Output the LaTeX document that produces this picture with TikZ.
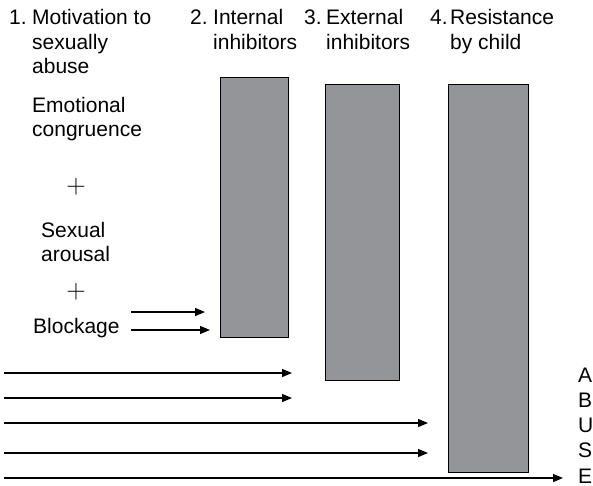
\documentclass[tikz,border=0pt]{standalone}
\usepackage{fontspec}
\setmainfont{Liberation Sans}
\newfontfamily\lmfont{Latin Modern Roman}
\usetikzlibrary{arrows.meta}
\tikzset{
  lbl/.style={font=\fontsize{21}{24.5}\selectfont, inner sep=0pt, anchor=base west, align=left},
  barbox/.style={draw=black, line width=1.2pt, fill=boxgray, anchor=north west, inner sep=0pt},
  arr/.style={line width=1.2pt, -{Triangle[length=10pt,width=8pt]}},
  plussign/.style={font=\lmfont\fontsize{27}{27}\selectfont, inner sep=0pt}
}
\definecolor{boxgray}{RGB}{148,149,152}
\begin{document}
\begin{tikzpicture}[x=1pt,y=-1pt]
\useasboundingbox (0,0) rectangle (593,486);
% headers (base anchor = baseline of last line)
\node[lbl] (n1) at (9,25) {1.};
\node[lbl] (h1) at (32,74) {Motivation to\\sexually\\abuse};
\node[lbl] (n2) at (190,25) {2.};
\node[lbl] (h2) at (213,49.5) {Internal\\inhibitors};
\node[lbl] (n3) at (304,25) {3.};
\node[lbl] (h3) at (326,49.5) {External\\inhibitors};
\node[lbl] (n4) at (430,25) {4.};
\node[lbl] (h4) at (450,49.5) {Resistance\\by child};
% preconditions
\node[lbl] (emo) at (32,137) {Emotional\\congruence};
\node[plussign] (p1) at (76,187) {+};
\node[lbl] (sex) at (41,261.5) {Sexual\\arousal};
\node[plussign] (p2) at (76,292) {+};
\node[lbl] (blk) at (33,333) {Blockage};
% boxes
\node[barbox, minimum width=68, minimum height=260] (b2) at (220,77) {};
\node[barbox, minimum width=74, minimum height=296] (b3) at (325,84) {};
\node[barbox, minimum width=80, minimum height=388] (b4) at (448,84) {};
% ABUSE
\node[lbl, font=\fontsize{21}{25.2}\selectfont] (ab) at (578,483) {A\\B\\U\\S\\E};
% arrow endpoints
\coordinate (s1) at (131,312); \coordinate (e1) at (205,312);
\coordinate (s2) at (131,330); \coordinate (e2) at (210,330);
\coordinate (s3) at (4,373);   \coordinate (e3) at (292,373);
\coordinate (s4) at (4,398);   \coordinate (e4) at (292,398);
\coordinate (s5) at (4,423);   \coordinate (e5) at (428,423);
\coordinate (s6) at (4,453);   \coordinate (e6) at (428,453);
\coordinate (s7) at (4,478);   \coordinate (e7) at (563,478);
\foreach \i in {1,...,7} \draw[arr] (s\i) -- (e\i);
\end{tikzpicture}
\end{document}
